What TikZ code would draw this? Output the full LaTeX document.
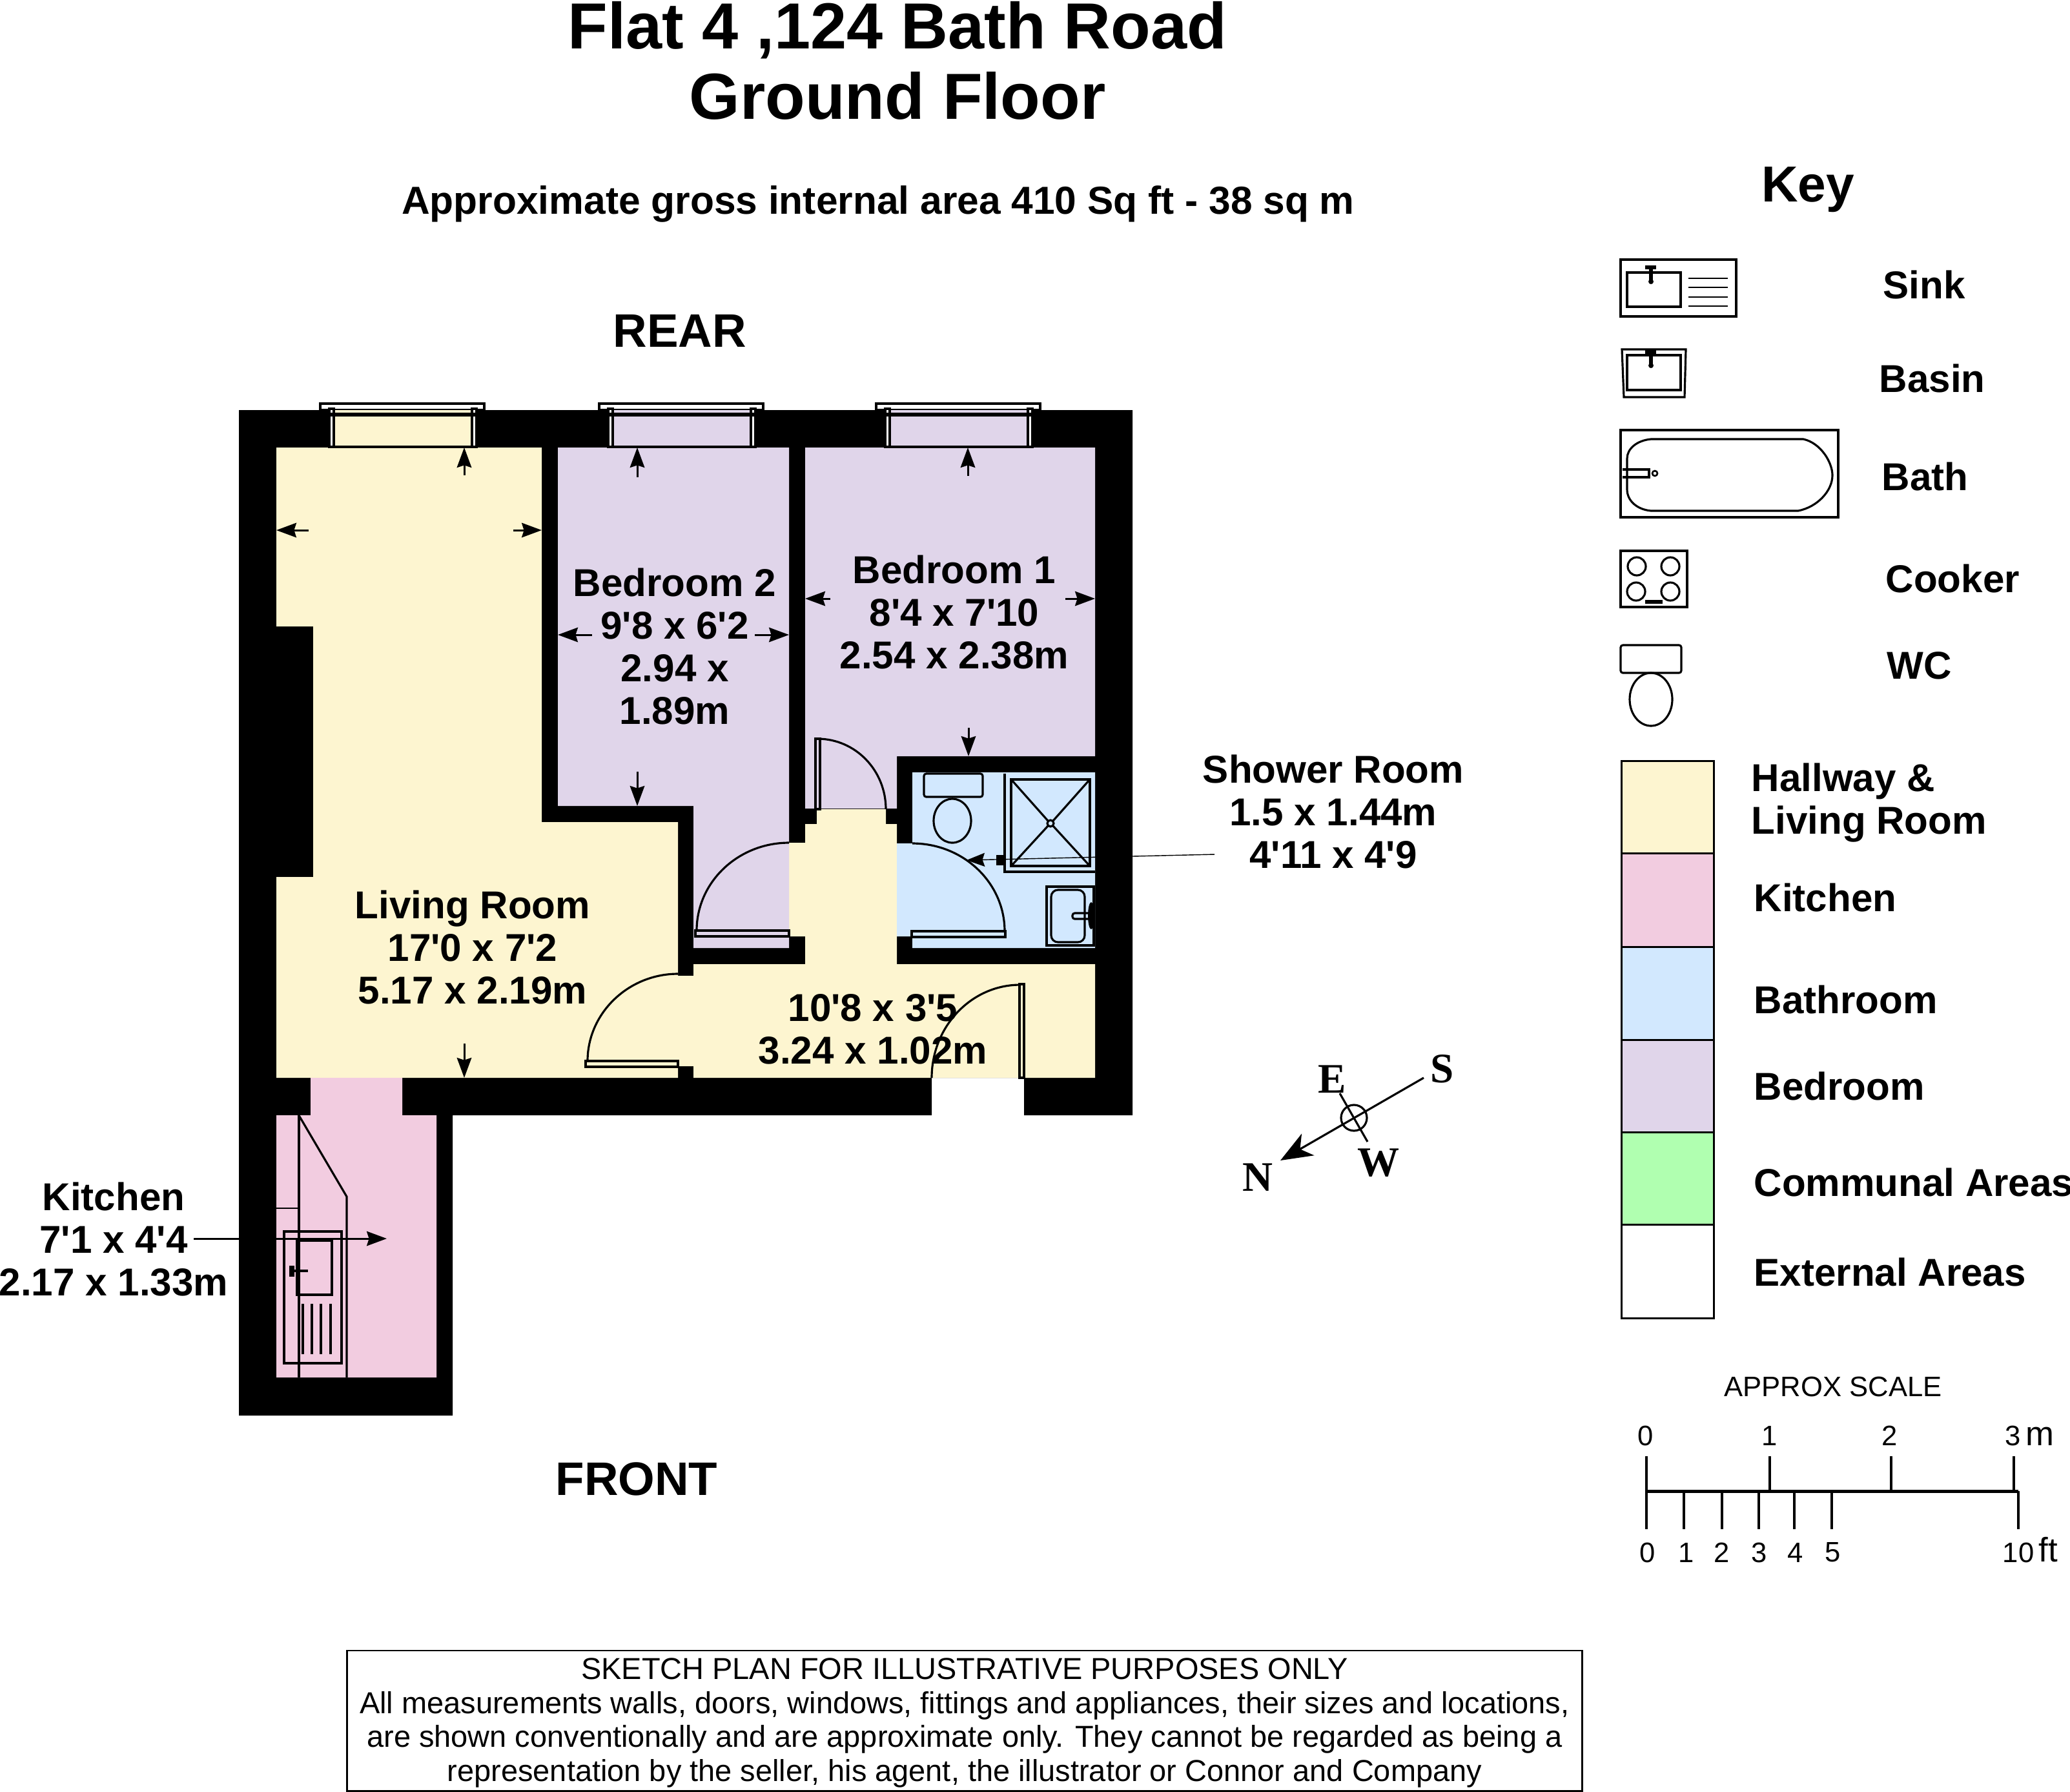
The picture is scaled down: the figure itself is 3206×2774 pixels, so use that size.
\documentclass[tikz,border=0pt]{standalone}
\usepackage{fontspec}
\usetikzlibrary{arrows.meta}
\newfontfamily\labelfont{Liberation Sans}
\newfontfamily\compassfont{Liberation Serif}
\definecolor{hallyellow}{HTML}{FDF5D0}
\definecolor{kitchenpink}{HTML}{F2CCE0}
\definecolor{bathblue}{HTML}{D2E8FE}
\definecolor{bedlilac}{HTML}{E0D5EA}
\definecolor{commgreen}{HTML}{B0FFB0}
\tikzset{
  fitting/.style={line width=0.9pt},
  thinfit/.style={line width=0.75pt},
  dimarrow/.style={line width=0.85pt,-{Stealth[length=8.8pt,width=6.4pt,inset=1pt]}},
  roomlabel/.style={font=\labelfont\bfseries\fontsize{17.1}{18.8}\selectfont,align=center,inner sep=0pt},
  keylabel/.style={roomlabel,align=left,anchor=west},
  biglabel/.style={font=\labelfont\bfseries\fontsize{20.7}{23}\selectfont,inner sep=0pt},
  titlelabel/.style={font=\labelfont\bfseries\fontsize{28.7}{31}\selectfont,align=center,inner sep=0pt},
  scalelabel/.style={font=\labelfont\fontsize{12.4}{14}\selectfont,inner sep=0pt},
  unitlabel/.style={font=\labelfont\fontsize{15}{16}\selectfont,inner sep=0pt},
  compasslabel/.style={font=\compassfont\bfseries\fontsize{18.5}{20}\selectfont,inner sep=0pt},
  keybox/.style={draw,line width=0.85pt}
}
\begin{document}
\begin{tikzpicture}[x=0.01cm,y=-0.01cm]
\useasboundingbox (0,0) rectangle (3206,2774);

\node[titlelabel] (title) at (1390,94) {Flat 4 ,124 Bath Road\\Ground Floor};
\node[font=\labelfont\bfseries\fontsize{17.2}{19}\selectfont,inner sep=0pt] (area) at (1360,316) {Approximate gross internal area 410 Sq ft - 38 sq m};
\node[biglabel] (rear) at (1053,512) {REAR};
\node[biglabel] (front) at (986,2290) {FRONT};

\fill (370,635) -- (1754,635) -- (1754,1727) -- (1586,1727) -- (1586,1669) -- (1443,1669) -- (1443,1727) -- (701,1727) -- (701,2192) -- (370,2192) -- cycle;
\fill[hallyellow] (428,693) -- (839,693) -- (839,1273) -- (1050,1273) -- (1050,1511) -- (1074,1511) -- (1074,1493) -- (1247,1493) -- (1247,1450) -- (1222,1450) -- (1222,1305) -- (1247,1305) -- (1247,1276) -- (1265,1276) -- (1265,1253) -- (1372,1253) -- (1372,1276) -- (1389,1276) -- (1389,1493) -- (1696,1493) -- (1696,1669) -- (1074,1669) -- (1074,1651) -- (1050,1651) -- (1050,1669) -- (428,1669) -- (428,1358) -- (485,1358) -- (485,970) -- (428,970) -- cycle;
\fill[bedlilac] (864,693) -- (1222,693) -- (1222,1468) -- (1074,1468) -- (1074,1248) -- (864,1248) -- cycle;
\fill[bedlilac] (1247,693) -- (1696,693) -- (1696,1171) -- (1389,1171) -- (1389,1252) -- (1247,1252) -- cycle;
\fill[bathblue] (1413,1196) -- (1696,1196) -- (1696,1468) -- (1413,1468) -- (1413,1450) -- (1389,1450) -- (1389,1306) -- (1413,1306) -- cycle;
\fill[kitchenpink] (428,1727) -- (481,1727) -- (481,1669) -- (623,1669) -- (623,1727) -- (676,1727) -- (676,2133) -- (428,2133) -- cycle;

\foreach \wx/\wc in {496/hallyellow,928/bedlilac,1357/bedlilac}{
  \draw[fitting] (\wx,625) rectangle (\wx+254,635);
  \fill[\wc] (\wx+14,635) rectangle (\wx+242,693);
  \draw[fitting,fill=white] (\wx+14,633) rectangle (\wx+21,692);
  \draw[fitting,fill=white] (\wx+235,633) rectangle (\wx+242,692);
  \draw[line width=1.6pt] (\wx+14,642) -- (\wx+242,642);
  \draw[fitting] (\wx+12,692) -- (\wx+244,692);
}

\draw[dimarrow] (719,736) -- (719,693);
\draw[dimarrow] (987,739) -- (987,693);
\draw[dimarrow] (1499,737) -- (1499,693);
\draw[dimarrow] (478,821) -- (428,821);
\draw[dimarrow] (795,821) -- (839,821);
\draw[dimarrow] (917,983) -- (864,983);
\draw[dimarrow] (1169,983) -- (1222,983);
\draw[dimarrow] (1286,927) -- (1247,927);
\draw[dimarrow] (1650,927) -- (1696,927);
\draw[dimarrow] (987,1195) -- (987,1248);
\draw[dimarrow] (1500,1127) -- (1500,1171);
\draw[dimarrow] (719,1616) -- (719,1669);

\draw[fitting] (1266,1144) .. controls (1325,1144) and (1372,1193) .. (1372,1253);
\draw[fitting] (1263,1144) rectangle (1270,1253);
\draw[fitting] (1079,1441) .. controls (1079,1366) and (1143,1305) .. (1222,1305);
\draw[fitting] (1077,1441) rectangle (1222,1450);
\draw[fitting] (1556,1442) .. controls (1556,1367) and (1492,1306) .. (1413,1306);
\draw[fitting] (1412,1442) rectangle (1557,1451);
\draw[fitting] (910,1643) .. controls (910,1569) and (973,1508) .. (1050,1508);
\draw[fitting] (907,1643) rectangle (1050,1652);
\draw[fitting] (1580,1525) .. controls (1504,1525) and (1443,1590) .. (1443,1669);
\draw[fitting] (1579,1524) rectangle (1586,1669);

\draw[fitting,rounded corners=1pt] (1431,1198) rectangle (1522,1234);
\draw[fitting] (1475,1271) ellipse[x radius=29,y radius=34];
\draw[fitting] (1556,1198) -- (1556,1350) -- (1696,1350);
\draw[fitting] (1566,1207) rectangle (1688,1341);
\draw[fitting] (1567,1208) -- (1623,1271);
\draw[fitting] (1687,1208) -- (1631,1271);
\draw[fitting] (1567,1340) -- (1623,1279);
\draw[fitting] (1687,1340) -- (1631,1279);
\draw[fitting] (1627,1275) circle[radius=5];
\draw[fitting] (1621,1373) rectangle (1694,1464);
\draw[fitting,rounded corners=3pt] (1628,1378) rectangle (1680,1459);
\draw[fitting,rounded corners=1pt] (1661,1414) rectangle (1690,1423);
\fill (1690,1418) ellipse[x radius=5,y radius=21];
\draw[fitting,fill=black] (1545,1326) rectangle (1555,1338);

\draw[fitting] (463,1727) -- (463,2133);
\draw[fitting] (464,1729) -- (537,1853) -- (537,2133);
\draw[thinfit] (428,1871) -- (463,1871);
\draw[fitting] (440,1907) rectangle (529,2111);
\draw[fitting] (460,1921) rectangle (514,2005);
\foreach \dx in {469,483,497,512}{
  \draw[fitting] (\dx,2019) -- (\dx,2097);
}
\fill (448,1960) rectangle (456,1977);
\draw[line width=1.2pt] (456,1968) -- (477,1968);

\node[roomlabel] (bed1) at (1478,948) {Bedroom 1\\8'4 x 7'10\\2.54 x 2.38m};
\node[roomlabel] (bed2) at (1045,1001) {Bedroom 2\\9'8 x 6'2\\2.94 x\\1.89m};
\node[roomlabel] (living) at (732,1467) {Living Room\\17'0 x 7'2\\5.17 x 2.19m};
\node[roomlabel] (hall) at (1352,1594) {10'8 x 3'5\\3.24 x 1.02m};
\node[roomlabel] (shower) at (2065,1257) {Shower Room\\1.5 x 1.44m\\4'11 x 4'9};
\node[roomlabel] (kitchen) at (176,1919) {Kitchen\\7'1 x 4'4\\2.17 x 1.33m};

\coordinate (showertail) at (1881,1323);
\coordinate (showertip) at (1497,1332);
\draw[line width=0.4pt,-{Stealth[length=8pt,width=6pt,inset=1pt]}] (showertail) -- (showertip);
\coordinate (kitchentail) at (300,1918);
\coordinate (kitchentip) at (599,1918);
\draw[dimarrow] (kitchentail) -- (kitchentip);

\coordinate (compassS) at (2205,1669);
\coordinate (compassN) at (1983,1797);
\coordinate (compassE) at (2075,1693);
\coordinate (compassW) at (2118,1768);
\node[draw,circle,line width=0.9pt,minimum size=0.4cm,inner sep=0pt] (compass) at (2097,1731) {};
\draw[line width=0.9pt] (compassE) -- (compassW);
\draw[line width=0.9pt,-{Stealth[length=14pt,width=11pt,inset=4pt]}] (compassS) -- (compassN);
\node[compasslabel] (labS) at (2234,1655) {S};
\node[compasslabel] (labE) at (2063,1671) {E};
\node[compasslabel] (labW) at (2135,1801) {W};
\node[compasslabel] (labN) at (1948,1823) {N};

\node[font=\labelfont\bfseries\fontsize{22.3}{24}\selectfont,inner sep=0pt] (key) at (2800,294) {Key};
\node[keylabel] (ksink) at (2916,441) {Sink};
\node[keylabel] (kbasin) at (2910,586) {Basin};
\node[keylabel] (kbath) at (2914,738) {Bath};
\node[keylabel] (kcooker) at (2920,896) {Cooker};
\node[keylabel] (kwc) at (2922,1031) {WC};

\draw[fitting] (2510,402) rectangle (2689,490);
\draw[fitting] (2520,422) rectangle (2603,475);
\foreach \ly in {431,445,460,474}{
  \draw[thinfit] (2615,\ly) -- (2676,\ly);
}
\draw[line width=1.6pt] (2548,414) -- (2565,414);
\draw[line width=1.6pt] (2557,414) -- (2557,434);
\fill (2557,436) circle[radius=4];

\draw[fitting] (2512,541) -- (2611,541) -- (2609,615) -- (2515,615) -- cycle;
\draw[fitting] (2520,550) rectangle (2603,604);
\draw[line width=1.6pt] (2548,545) -- (2565,545);
\draw[line width=1.6pt] (2557,545) -- (2557,565);
\fill (2557,566) circle[radius=4];

\draw[fitting] (2510,666) rectangle (2847,801);
\draw[fitting] (2557,680) -- (2793,680) .. controls (2820,686) and (2838,716) .. (2838,736) .. controls (2838,760) and (2815,785) .. (2785,791) -- (2557,791) .. controls (2535,789) and (2520,775) .. (2520,758) -- (2520,710) .. controls (2520,695) and (2535,682) .. (2557,680);
\draw[fitting] (2513,727) -- (2554,727) -- (2554,739) -- (2513,739);
\draw[thinfit] (2563,733) circle[radius=4];

\draw[fitting] (2510,853) rectangle (2613,940);
\draw[fitting] (2535,877) ellipse[x radius=14,y radius=14];
\draw[fitting] (2587,877) ellipse[x radius=14,y radius=14];
\draw[fitting] (2534,916) ellipse[x radius=14,y radius=14];
\draw[fitting] (2587,916) ellipse[x radius=14,y radius=14];
\draw[line width=1.6pt] (2548,932) -- (2575,932);

\draw[fitting,rounded corners=1pt] (2510,999) rectangle (2604,1042);
\draw[fitting] (2557,1083) ellipse[x radius=33,y radius=41];

\draw[keybox,fill=hallyellow] (2511,1178) rectangle (2654,1321);
\draw[keybox,fill=kitchenpink] (2511,1321) rectangle (2654,1466);
\draw[keybox,fill=bathblue] (2511,1466) rectangle (2654,1610);
\draw[keybox,fill=bedlilac] (2511,1610) rectangle (2654,1753);
\draw[keybox,fill=commgreen] (2511,1753) rectangle (2654,1896);
\draw[keybox,fill=white] (2511,1896) rectangle (2654,2041);
\node[keylabel] (khall) at (2712,1243) {Hallway \&\\Living Room};
\node[keylabel] (kkitchen) at (2716,1390) {Kitchen};
\node[keylabel] (kbathroom) at (2716,1548) {Bathroom};
\node[keylabel] (kbedroom) at (2716,1682) {Bedroom};
\node[keylabel] (kcomm) at (2716,1831) {Communal Areas};
\node[keylabel] (kext) at (2716,1970) {External Areas};

\node[scalelabel] (approx) at (2839,2147) {APPROX SCALE};
\draw[line width=1.4pt] (2550,2309) -- (3126,2309);
\draw[line width=1pt] (2550,2255) -- (2550,2368);
\draw[line width=1pt] (3126,2309) -- (3126,2368);
\foreach \mx in {2741,2929,3119}{
  \draw[line width=1pt] (\mx,2255) -- (\mx,2309);
}
\foreach \fx in {2608,2667,2724,2779,2837}{
  \draw[line width=1pt] (\fx,2309) -- (\fx,2368);
}
\foreach \tx/\tn in {2549/0,2741/1,2927/2,3118/3}{
  \node[scalelabel] (top\tn) at (\tx,2223) {\tn};
}
\node[unitlabel] (topm) at (3159,2224) {m};
\foreach \bx/\bn in {2552/0,2612/1,2667/2,2725/3,2781/4,2839/5,3126/10}{
  \node[scalelabel] (bot\bn) at (\bx,2404) {\bn};
}
\node[unitlabel] (botft) at (3172,2400) {ft};

\node[draw,line width=0.8pt,minimum width=19.12cm,minimum height=2.17cm,inner sep=0pt] (note) at (1494,2664.5) {};
\node[inner sep=0pt,align=center,font=\labelfont\fontsize{13.35}{14.9}\selectfont] (notetext) at (1494,2668) {SKETCH PLAN FOR ILLUSTRATIVE PURPOSES ONLY\\All measurements walls, doors, windows, fittings and appliances, their sizes and locations,\\are shown conventionally and are approximate only. They cannot be regarded as being a\\representation by the seller, his agent, the illustrator or Connor and Company};
\end{tikzpicture}
\end{document}
